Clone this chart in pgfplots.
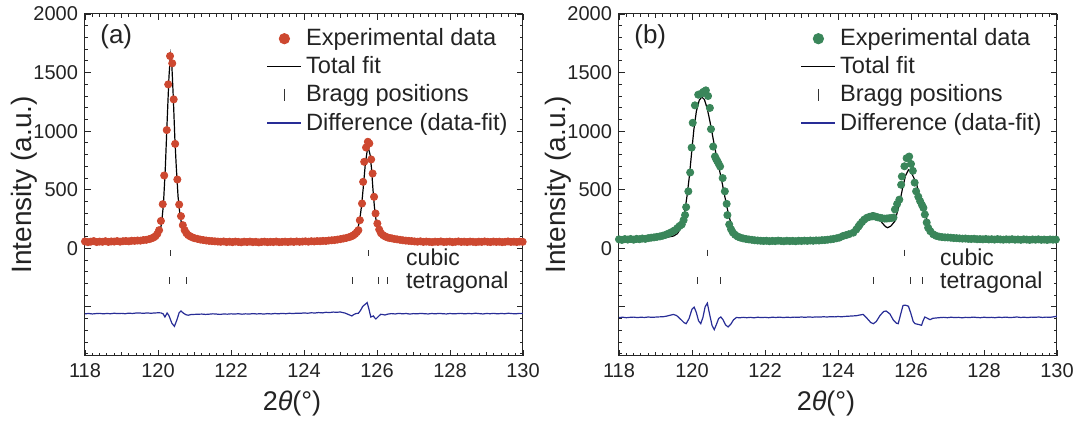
\documentclass[border=0pt]{standalone}
\usepackage{fontspec}
\setmainfont{Liberation Sans}
\usepackage{pgfplots}
\pgfplotsset{compat=1.18}
\definecolor{expred}{RGB}{205,72,48}
\definecolor{expgreen}{RGB}{58,134,90}
\definecolor{diffblue}{RGB}{40,45,150}
\definecolor{txt}{RGB}{35,35,35}

\pgfplotsset{
 xrd/.style={
  scale only axis, width=219pt, height=171pt,
  xmin=118, xmax=130, ymin=-920, ymax=2000,
  xtick={118,120,...,130}, minor x tick num=9,
  ytick={0,500,1000,1500,2000}, minor ytick={-900,-800,...,1900},
  extra y ticks={-500}, extra y tick labels={},
  extra x ticks={119,121,...,129}, extra x tick labels={},
  extra x tick style={major tick length=2.2pt},
  tick align=inside, tick pos=both,
  major tick length=3pt, minor tick length=1.6pt,
  axis line style={black!85, line width=0.5pt},
  every tick/.style={black!85, line width=0.4pt},
  tick label style={font=\fontsize{10}{12}\selectfont, text=txt},
  /pgf/number format/assume math mode=true,
  /pgf/number format/1000 sep={},
  xlabel={2\textit{θ}(°)},
  xlabel style={font=\fontsize{13.5}{16}\selectfont, text=txt, xshift=-6pt},
  ylabel={Intensity (a.u.)},
  ylabel shift=-9pt,
  ylabel style={font=\fontsize{14}{16}\selectfont, text=txt},
  legend style={draw=none, fill=none, font=\fontsize{11.8}{14}\selectfont,
    at={(0.414,0.97)}, anchor=north west, inner sep=0pt, row sep=0pt, text=txt},
  legend cell align=left,
 },
}
\tikzset{
 ann/.style={anchor=base west, inner sep=0pt, font=\fontsize{11.5}{14}\selectfont, text=txt},
 lab/.style={anchor=west, inner sep=0pt, font=\fontsize{13}{15}\selectfont, text=txt},
}

\begin{document}
\begin{tikzpicture}
% ---------------- panel (a) ----------------
\begin{axis}[xrd, at={(0pt,0pt)}, anchor=south west]
\addlegendimage{only marks, mark=*, mark size=2.6pt, color=expred}
\addlegendentry{Experimental data}
\addlegendimage{black, line width=0.6pt}
\addlegendentry{Total fit}
\addlegendimage{only marks, mark=|, mark size=3pt, black!80, mark options={line width=0.5pt}}
\addlegendentry{Bragg positions}
\addlegendimage{diffblue, line width=0.6pt}
\addlegendentry{Difference (data-fit)}

\addplot[only marks, mark=*, mark size=1.8pt, color=expred, forget plot] coordinates {
(118.00,58)(118.08,52)(118.16,56)(118.24,61)(118.32,53)(118.40,57)(118.48,55)(118.56,60)
(118.64,54)(118.72,58)(118.80,57)(118.88,61)(118.96,56)(119.04,60)(119.12,62)(119.20,59)
(119.28,64)(119.36,63)(119.44,66)(119.52,65)(119.60,70)(119.68,72)(119.76,78)(119.82,84)
(119.88,92)(119.93,103)(119.98,122)(120.03,154)(120.08,233)(120.13,376)(120.17,621)
(120.24,1009)(120.28,1399)(120.33,1641)(120.39,1579)(120.43,1271)(120.47,891)(120.53,587)
(120.58,373)(120.63,274)(120.68,197)(120.73,155)(120.78,128)(120.83,112)(120.88,102)
(120.94,93)(121.00,86)(121.08,80)(121.16,74)(121.24,70)(121.32,66)(121.40,63)(121.48,61)
(121.56,59)(121.64,57)(121.72,55)(121.80,58)(121.88,53)(121.96,56)(122.04,52)(122.12,57)
(122.20,54)(122.28,51)(122.36,56)(122.44,53)(122.52,57)(122.60,52)(122.68,55)(122.76,50)
(122.84,54)(122.92,56)(123.00,52)(123.08,55)(123.16,53)(123.24,57)(123.32,52)(123.40,54)
(123.48,56)(123.56,53)(123.64,57)(123.72,54)(123.80,58)(123.88,55)(123.96,57)(124.04,59)
(124.12,56)(124.20,60)(124.28,58)(124.36,61)(124.44,60)(124.52,63)(124.60,62)(124.68,66)
(124.76,68)(124.84,70)(124.92,74)(125.00,78)(125.08,83)(125.16,88)(125.24,95)(125.30,102)
(125.35,110)(125.40,122)(125.45,138)(125.49,154)(125.53,239)(125.59,382)(125.62,567)
(125.65,738)(125.70,860)(125.75,909)(125.79,895)(125.84,758)(125.88,638)(125.92,439)
(125.96,297)(126.01,211)(126.06,160)(126.11,128)(126.17,111)(126.23,100)(126.29,92)
(126.35,87)(126.41,84)(126.47,80)(126.55,76)(126.63,72)(126.71,68)(126.79,65)(126.87,63)
(126.95,61)(127.03,58)(127.11,56)(127.19,59)(127.27,54)(127.35,57)(127.43,55)(127.51,52)
(127.59,56)(127.67,54)(127.75,58)(127.83,53)(127.91,55)(127.99,57)(128.07,52)(128.15,55)
(128.23,58)(128.31,54)(128.39,56)(128.47,53)(128.55,57)(128.63,55)(128.71,52)(128.79,56)
(128.87,54)(128.95,58)(129.03,55)(129.11,53)(129.19,57)(129.27,54)(129.35,56)(129.43,52)
(129.51,55)(129.59,58)(129.67,54)(129.75,56)(129.83,53)(129.91,57)(129.99,55)
};
\addplot[black, line width=0.6pt, forget plot] coordinates {
(118.0,50)(118.5,53)(119.0,57)(119.4,62)(119.7,70)(119.9,85)(120.0,105)(120.05,140)
(120.1,215)(120.15,380)(120.2,680)(120.25,1080)(120.3,1460)(120.34,1650)(120.38,1560)
(120.42,1280)(120.46,950)(120.5,700)(120.55,440)(120.6,290)(120.65,200)(120.7,150)
(120.8,108)(120.9,90)(121.0,80)(121.3,66)(121.7,58)(122.2,54)(123.5,52)(124.5,55)
(124.9,62)(125.1,72)(125.25,88)(125.35,105)(125.42,130)(125.48,175)(125.53,250)
(125.58,370)(125.63,540)(125.68,720)(125.73,830)(125.77,850)(125.81,800)(125.85,680)
(125.89,500)(125.93,350)(125.97,250)(126.02,180)(126.08,135)(126.15,108)(126.25,90)
(126.4,76)(126.6,66)(127.0,58)(127.5,54)(128.5,52)(130,52)
};
\addplot[only marks, mark=|, mark size=1.6pt, black!80, mark options={line width=0.5pt}, forget plot]
 coordinates {(120.35,-43)(125.77,-43)};
\addplot[only marks, mark=|, mark size=1.6pt, black!80, mark options={line width=0.5pt}, forget plot]
 coordinates {(120.32,-275)(120.77,-275)(125.33,-275)(126.05,-275)(126.30,-275)};
\addplot[diffblue, line width=0.6pt, forget plot] coordinates {
(118.0,-560)(118.1,-557)(118.2,-561)(118.3,-558)(118.4,-556)(118.5,-560)(118.6,-557)
(118.7,-559)(118.8,-555)(118.9,-558)(119.0,-556)(119.1,-559)(119.2,-554)(119.3,-557)
(119.4,-553)(119.51,-553)(119.6,-556)(119.7,-552)(119.8,-555)(119.9,-553)(120.0,-551)
(120.08,-552)(120.14,-560)(120.19,-587)(120.25,-553)(120.3,-575)(120.38,-640)(120.45,-667)
(120.52,-610)(120.58,-550)(120.63,-536)(120.7,-555)(120.77,-568)(120.83,-572)(120.9,-566)
(120.98,-565)(121.06,-564)(121.2,-562)(121.3,-565)(121.4,-563)(121.5,-560)(121.6,-562)
(121.7,-565)(121.8,-561)(121.9,-563)(122.0,-560)(122.1,-562)(122.2,-559)(122.3,-563)
(122.4,-560)(122.5,-562)(122.6,-558)(122.7,-561)(122.8,-559)(122.9,-562)(123.0,-558)
(123.1,-561)(123.2,-557)(123.3,-560)(123.4,-556)(123.5,-559)(123.6,-555)(123.7,-558)
(123.8,-554)(123.9,-556)(124.0,-552)(124.1,-555)(124.2,-551)(124.3,-553)(124.4,-549)
(124.5,-552)(124.6,-547)(124.7,-549)(124.8,-545)(124.9,-547)(124.99,-544)(125.12,-553)
(125.22,-566)(125.31,-578)(125.37,-565)(125.42,-558)(125.49,-555)(125.55,-530)(125.61,-496)
(125.68,-478)(125.73,-464)(125.78,-520)(125.83,-587)(125.87,-582)(125.90,-578)(125.94,-595)
(125.97,-604)(126.03,-585)(126.10,-564)(126.16,-566)(126.22,-570)(126.3,-562)(126.4,-558)
(126.5,-561)(126.6,-556)(126.7,-560)(126.8,-557)(126.9,-562)(127.0,-558)(127.1,-560)
(127.2,-556)(127.3,-559)(127.4,-561)(127.5,-557)(127.6,-560)(127.7,-556)(127.8,-559)
(127.9,-561)(128.0,-557)(128.1,-560)(128.2,-558)(128.3,-556)(128.4,-560)(128.5,-557)
(128.6,-559)(128.7,-555)(128.8,-558)(128.9,-561)(129.0,-557)(129.1,-559)(129.2,-556)
(129.3,-560)(129.4,-557)(129.5,-559)(129.6,-555)(129.7,-558)(129.8,-560)(129.9,-556)(130.0,-558)
};
\node[ann] at (axis cs:126.79,-145) {cubic};
\node[ann] at (axis cs:126.79,-345) {tetragonal};
\node[lab] at (axis cs:118.41,1803) {(a)};
\end{axis}

% ---------------- panel (b) ----------------
\begin{axis}[xrd, at={(267pt,0pt)}, anchor=south west]
\addlegendimage{only marks, mark=*, mark size=2.6pt, color=expgreen}
\addlegendentry{Experimental data}
\addlegendimage{black, line width=0.6pt}
\addlegendentry{Total fit}
\addlegendimage{only marks, mark=|, mark size=3pt, black!80, mark options={line width=0.5pt}}
\addlegendentry{Bragg positions}
\addlegendimage{diffblue, line width=0.6pt}
\addlegendentry{Difference (data-fit)}

\addplot[only marks, mark=*, mark size=1.8pt, color=expgreen, forget plot] coordinates {
(118.00,76)(118.08,71)(118.16,78)(118.24,74)(118.32,79)(118.40,73)(118.48,80)(118.56,77)
(118.64,83)(118.72,80)(118.80,86)(118.88,90)(118.96,93)(119.04,97)(119.12,101)(119.20,107)
(119.28,115)(119.36,126)(119.44,138)(119.52,152)(119.60,172)(119.66,190)(119.72,203)
(119.77,240)(119.81,283)(119.84,351)(119.90,486)(119.95,647)(119.99,859)(120.02,1071)
(120.08,1220)(120.17,1311)(120.25,1319)(120.31,1335)(120.38,1348)(120.44,1300)(120.49,1198)
(120.52,1017)(120.58,868)(120.63,783)(120.66,762)(120.69,746)(120.73,722)(120.77,698)
(120.84,599)(120.90,486)(120.95,379)(120.97,283)(121.02,203)(121.07,162)(121.12,134)
(121.18,115)(121.25,100)(121.32,91)(121.40,84)(121.48,79)(121.56,75)(121.64,72)(121.72,68)
(121.80,66)(121.88,64)(121.96,62)(122.04,64)(122.12,60)(122.20,63)(122.28,61)(122.36,65)
(122.44,62)(122.52,60)(122.60,64)(122.68,61)(122.76,63)(122.84,60)(122.92,64)(123.00,62)
(123.08,65)(123.16,63)(123.24,66)(123.32,64)(123.40,67)(123.48,66)(123.56,69)(123.64,70)
(123.72,73)(123.80,76)(123.88,80)(123.96,85)(124.04,91)(124.14,105)(124.22,112)(124.30,120)
(124.42,133)(124.50,160)(124.56,185)(124.60,203)(124.66,225)(124.72,245)(124.79,260)
(124.86,268)(124.93,272)(124.97,274)(125.03,270)(125.09,264)(125.15,260)(125.21,256)
(125.28,253)(125.34,254)(125.40,256)(125.46,258)(125.52,262)(125.56,331)(125.62,378)
(125.68,415)(125.73,542)(125.75,613)(125.82,700)(125.88,769)(125.95,783)(126.00,720)
(126.05,661)(126.10,560)(126.14,486)(126.20,440)(126.25,402)(126.30,370)(126.34,345)
(126.38,288)(126.43,220)(126.47,175)(126.53,145)(126.61,119)(126.69,106)(126.77,99)
(126.85,95)(126.93,93)(127.01,92)(127.09,90)(127.17,87)(127.25,86)(127.33,84)(127.41,82)
(127.49,83)(127.57,80)(127.65,79)(127.73,81)(127.81,77)(127.89,78)(127.97,76)(128.05,79)
(128.13,75)(128.21,77)(128.29,74)(128.37,78)(128.45,75)(128.53,73)(128.61,76)(128.69,74)
(128.77,77)(128.85,73)(128.93,75)(129.01,72)(129.09,76)(129.17,74)(129.25,71)(129.33,75)
(129.41,73)(129.49,76)(129.57,72)(129.65,74)(129.73,71)(129.81,75)(129.89,73)(129.97,74)
};
\addplot[black, line width=0.6pt, forget plot] coordinates {
(118.0,72)(118.5,75)(119.0,82)(119.3,92)(119.5,105)(119.6,125)(119.67,160)(119.75,240)
(119.81,330)(119.87,460)(119.93,620)(120.0,850)(120.05,1010)(120.12,1170)(120.2,1265)
(120.27,1291)(120.34,1270)(120.42,1190)(120.5,1070)(120.6,900)(120.7,740)(120.8,600)
(120.9,440)(121.0,290)(121.1,175)(121.2,120)(121.3,96)(121.45,82)(121.7,74)(122.2,70)
(123,68)(123.6,69)(124.0,74)(124.2,86)(124.42,119)(124.55,165)(124.65,210)(124.75,260)
(124.85,292)(124.97,303)(125.08,280)(125.2,220)(125.3,185)(125.36,175)(125.45,190)
(125.56,232)(125.68,373)(125.77,514)(125.85,620)(125.93,669)(126.0,650)(126.08,600)
(126.16,540)(126.22,460)(126.29,373)(126.38,290)(126.45,232)(126.55,160)(126.66,119)
(126.8,95)(127.0,82)(127.5,75)(128.0,72)(129,71)(130,71)
};
\addplot[only marks, mark=|, mark size=1.6pt, black!80, mark options={line width=0.5pt}, forget plot]
 coordinates {(120.42,-40)(125.83,-40)};
\addplot[only marks, mark=|, mark size=1.6pt, black!80, mark options={line width=0.5pt}, forget plot]
 coordinates {(120.15,-274)(120.77,-274)(124.98,-274)(125.99,-274)(126.32,-274)};
\addplot[diffblue, line width=0.6pt, forget plot] coordinates {
(118.0,-592)(118.1,-589)(118.2,-593)(118.3,-590)(118.4,-588)(118.5,-592)(118.6,-589)
(118.7,-591)(118.8,-587)(118.9,-590)(119.0,-588)(119.1,-586)(119.2,-585)(119.3,-580)
(119.4,-572)(119.49,-565)(119.58,-575)(119.7,-610)(119.78,-635)(119.84,-644)(119.92,-600)
(120.0,-520)(120.06,-503)(120.12,-550)(120.18,-620)(120.24,-644)(120.3,-590)(120.36,-500)
(120.42,-469)(120.48,-560)(120.55,-660)(120.61,-695)(120.67,-650)(120.73,-600)(120.79,-587)
(120.85,-610)(120.92,-655)(120.99,-672)(121.06,-650)(121.14,-610)(121.22,-591)(121.3,-594)
(121.4,-590)(121.5,-593)(121.6,-590)(121.7,-594)(121.8,-589)(121.9,-592)(122.0,-590)
(122.1,-593)(122.2,-589)(122.3,-591)(122.4,-588)(122.5,-592)(122.6,-589)(122.7,-591)
(122.8,-588)(122.9,-590)(123.0,-587)(123.1,-590)(123.2,-586)(123.3,-589)(123.4,-586)
(123.5,-588)(123.6,-585)(123.7,-587)(123.8,-584)(123.9,-586)(124.0,-583)(124.1,-585)
(124.2,-582)(124.3,-580)(124.4,-578)(124.5,-576)(124.6,-570)(124.69,-565)(124.8,-600)
(124.9,-635)(124.97,-644)(125.05,-625)(125.15,-575)(125.25,-540)(125.32,-536)(125.42,-560)
(125.52,-615)(125.6,-640)(125.65,-644)(125.72,-560)(125.78,-490)(125.81,-486)(125.87,-488)
(125.93,-495)(126.0,-560)(126.06,-625)(126.11,-644)(126.2,-650)(126.26,-655)(126.29,-658)
(126.33,-620)(126.38,-587)(126.45,-598)(126.52,-610)(126.6,-598)(126.7,-595)(126.8,-592)
(126.9,-590)(127.0,-593)(127.1,-589)(127.2,-592)(127.3,-590)(127.4,-594)(127.5,-590)
(127.6,-592)(127.7,-588)(127.8,-591)(127.9,-593)(128.0,-589)(128.1,-592)(128.2,-590)
(128.3,-593)(128.4,-589)(128.5,-591)(128.6,-588)(128.7,-592)(128.8,-590)(128.9,-587)
(129.0,-591)(129.1,-589)(129.2,-592)(129.3,-588)(129.4,-590)(129.5,-587)(129.6,-591)
(129.7,-588)(129.8,-590)(129.9,-586)(130.0,-580)
};
\node[ann] at (axis cs:126.79,-145) {cubic};
\node[ann] at (axis cs:126.79,-345) {tetragonal};
\node[lab] at (axis cs:118.41,1803) {(b)};
\end{axis}
\pgfresetboundingbox
\path[use as bounding box] (-42.5pt,-33.5pt) rectangle (499.5pt,178pt);
\end{tikzpicture}
\end{document}
